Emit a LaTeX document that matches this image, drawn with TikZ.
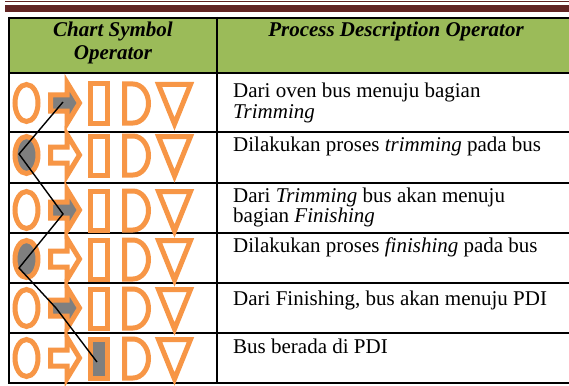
\documentclass[tikz,border=0pt]{standalone}
\usepackage{fontspec}
\setmainfont{Liberation Serif}
\definecolor{barred}{HTML}{622423}
\definecolor{headgreen}{HTML}{9BBB59}
\definecolor{symorange}{HTML}{F79646}
\definecolor{symgray}{HTML}{7F7F7F}
\begin{document}
\begin{tikzpicture}[x=1pt,y=-1pt,
  sym/.style={draw=symorange, line width=5pt, line join=miter},
  rule/.style={draw=black, line width=2pt},
  vrule/.style={draw=black, line width=1.6pt},
  desc/.style={anchor=base west, inner sep=0pt, font=\fontsize{21}{21}\selectfont},
  headtxt/.style={anchor=base, inner sep=0pt, font=\fontsize{21}{23}\selectfont\bfseries\itshape},
  flow/.style={draw=black, line width=1.4pt}]
\useasboundingbox (0,0) rectangle (569,385);
\fill[white] (0,0) rectangle (569,385);

% page header bars
\fill[barred] (5,1) rectangle (569,2.4);
\fill[barred] (5,4.7) rectangle (569,12.3);

% table header
\fill[headgreen] (9,18) rectangle (575,73);
\draw[rule] (9,18) -- (575,18);
\draw[rule] (9,73) -- (575,73);
\foreach \yy in {132,183,233,283,333,383}
  \draw[rule] (9,\yy) -- (575,\yy);
\draw[vrule] (9,17) -- (9,384);
\draw[vrule] (217,17) -- (217,384);

\node[headtxt] (h1) at (113,37) {Chart Symbol};
\node[headtxt] (h2) at (113,60) {Operator};
\node[headtxt] (h3) at (396,37) {Process Description Operator};

% process descriptions
\node[desc] (t1a) at (233,97) {Dari oven bus menuju bagian};
\node[desc] (t1b) at (233,118) {\textit{Trimming}};
\node[desc] (t2) at (233,151) {Dilakukan proses \textit{trimming} pada bus};
\node[desc] (t3a) at (233,202) {Dari \textit{Trimming} bus akan menuju};
\node[desc] (t3b) at (233,222) {bagian \textit{Finishing}};
\node[desc] (t4) at (233,252) {Dilakukan proses \textit{finishing} pada bus};
\node[desc] (t5) at (233,305) {Dari Finishing, bus akan menuju PDI};
\node[desc] (t6) at (233,353) {Bus berada di PDI};

% chart symbols: operation, transport, inspection, delay, storage
\foreach \yc/\act [count=\r] in {103/2,155/1,210/2,259/1,308/2,358/3} {
  \ifnum\act=1 \def\fa{symgray}\else\def\fa{white}\fi
  \ifnum\act=2 \def\fb{symgray}\else\def\fb{white}\fi
  \ifnum\act=3 \def\fc{symgray}\else\def\fc{white}\fi
  \draw[sym, fill=\fa] (26.5,\yc) ellipse [x radius=11.5, y radius=18.5];
  \draw[sym, fill=\fb] (50.5,\yc-8) -- (67,\yc-8) -- (67,\yc-20.5) -- (79.5,\yc)
     -- (67,\yc+20.5) -- (67,\yc+8) -- (50.5,\yc+8) -- cycle;
  \draw[sym, fill=\fc] (90.5,\yc-19) rectangle (107.5,\yc+20);
  \draw[sym, fill=white] (124.5,\yc-19) -- (133,\yc-19)
     arc[start angle=-90, end angle=90, x radius=15.5, y radius=19.5]
     -- (124.5,\yc+20) -- cycle;
  \draw[sym, fill=white] (158.5,\yc-18.5) -- (190.5,\yc-18.5) -- (174.5,\yc+21) -- cycle;
}

% flow line through the active symbols
\coordinate (p1) at (63,102);
\coordinate (p2) at (19,154);
\coordinate (p3) at (63,214);
\coordinate (p4) at (19,268);
\coordinate (p5) at (56,308);
\coordinate (p6) at (97,362);
\draw[flow] (p1) -- (p2) -- (p3) -- (p4) -- (p5) -- (p6);
\end{tikzpicture}
\end{document}
